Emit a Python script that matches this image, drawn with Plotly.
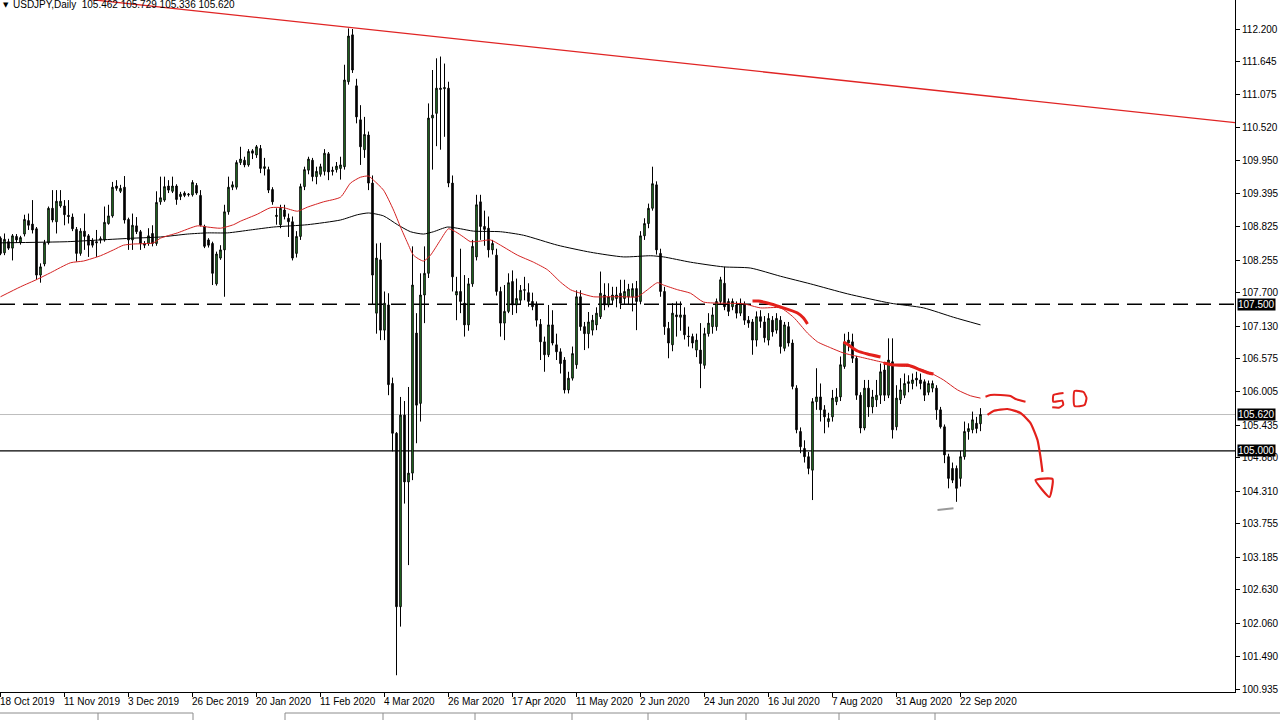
import pandas as pd
import plotly.graph_objects as go

# ---------------- data ----------------
opens = [108.63,108.38,108.57,108.46,108.66,108.56,108.70,108.93,108.87,108.79,
         108.00,108.19,108.55,109.14,108.91,109.18,109.18,109.02,108.99,108.78,
         108.37,108.75,108.67,108.59,108.57,108.60,108.60,108.88,109.01,109.52,
         109.43,109.50,108.95,108.60,108.84,108.74,108.54,108.54,108.71,108.54,
         109.25,109.28,109.52,109.43,109.52,109.34,109.40,109.37,109.37,109.53,
         109.36,108.83,108.60,108.54,107.85,108.29,108.43,109.08,109.50,109.50,
         109.92,109.96,109.88,110.12,110.05,110.16,109.82,109.80,109.46,109.00,
         108.86,109.11,108.97,108.91,108.37,108.66,109.51,109.79,109.96,109.68,
         109.72,109.77,110.07,109.79,109.80,109.82,109.85,111.30,112.10,111.23,
         110.65,110.14,110.39,109.57,107.35,108.26,107.06,107.49,106.15,105.30,
         102.34,105.61,104.47,104.62,107.01,105.81,107.66,108.03,110.68,110.76,
         111.19,111.18,111.19,109.57,107.66,107.72,107.52,107.15,107.85,108.31,
         109.25,108.83,108.80,108.43,108.34,107.72,107.18,107.38,107.89,107.49,
         107.57,107.74,107.70,107.55,107.49,107.16,106.86,106.64,107.15,106.81,
         106.69,106.55,106.04,106.24,106.47,107.63,107.12,107.00,107.06,107.15,
         107.29,107.66,107.49,107.57,107.60,107.69,107.60,107.63,107.63,107.77,
         107.55,108.67,108.88,109.14,109.54,108.37,107.72,107.09,106.81,107.32,
         107.28,107.32,106.96,106.95,106.72,106.72,106.46,107.00,107.12,107.12,
         107.55,107.86,107.55,107.46,107.49,107.35,107.49,107.23,107.20,106.89,
         107.29,107.20,106.89,107.23,107.06,107.23,106.75,107.12,106.84,106.07,
         105.33,105.04,104.90,104.67,105.84,105.92,105.70,105.50,105.58,105.84,
         105.92,106.44,106.84,106.86,106.58,105.95,105.39,106.07,105.75,105.87,
         105.95,106.38,105.95,106.52,105.41,105.87,105.95,106.15,106.15,106.24,
         106.21,106.18,106.00,106.07,106.07,105.70,105.41,104.90,104.70,104.70,
         104.53,104.90,105.33,105.36,105.47,105.462]
highs = [108.66,108.71,108.62,108.70,108.70,108.67,109.03,109.05,109.28,108.82,
         108.20,108.60,109.17,109.45,109.45,109.45,109.28,109.28,109.05,108.82,
         108.80,109.05,108.70,108.63,108.77,108.66,109.17,109.20,109.59,109.62,
         109.54,109.69,108.98,109.05,108.99,108.77,108.58,108.80,108.85,109.43,
         109.68,109.68,109.62,109.68,109.55,109.42,109.43,109.40,109.62,109.57,
         109.45,108.86,108.63,108.57,108.40,108.51,109.20,109.68,109.60,109.96,
         110.19,110.02,110.15,110.15,110.22,110.22,110.00,109.85,109.50,109.14,
         109.20,109.20,109.05,109.00,108.75,109.56,109.85,110.02,110.00,109.85,
         109.90,110.15,110.10,109.85,109.93,110.02,111.59,112.21,112.20,111.35,
         110.90,110.70,110.45,109.70,108.54,108.55,107.72,107.69,106.25,105.32,
         105.92,105.85,106.09,108.49,107.35,108.03,108.49,110.93,111.50,111.70,
         111.73,111.61,111.30,109.70,107.97,108.45,108.00,107.95,108.60,109.37,
         109.37,109.10,109.00,108.60,108.45,107.80,107.83,108.03,108.08,107.94,
         107.83,107.97,107.86,107.70,107.55,107.25,106.95,107.49,107.40,107.00,
         106.75,106.60,106.35,106.78,107.74,107.74,107.20,107.37,107.32,107.45,
         108.06,107.86,107.86,107.80,107.80,107.92,107.92,107.85,107.86,107.90,
         108.75,108.97,109.22,109.85,109.60,108.45,107.80,107.20,107.52,107.55,
         107.55,107.45,107.12,107.00,107.00,107.18,107.10,107.35,107.45,107.60,
         107.97,108.14,107.60,107.60,107.55,107.60,107.55,107.30,107.25,107.38,
         107.40,107.30,107.35,107.30,107.35,107.30,107.20,107.20,106.90,106.12,
         105.40,105.18,104.98,105.90,106.41,106.15,105.78,105.65,106.04,106.07,
         106.61,107.00,107.03,107.00,106.62,106.00,106.21,106.21,106.04,106.21,
         106.49,106.49,106.92,106.92,106.12,106.24,106.32,106.29,106.32,106.35,
         106.32,106.22,106.20,106.20,106.12,105.75,105.45,104.95,104.80,104.75,
         105.00,105.50,105.47,105.67,105.58,105.729]
lows = [108.34,108.34,108.43,108.25,108.55,108.52,108.66,108.77,108.71,107.92,
        107.87,108.15,108.52,108.90,108.71,109.15,108.85,108.88,108.75,108.23,
        108.33,108.43,108.31,108.47,108.31,108.54,108.57,108.86,108.98,109.44,
        109.40,108.88,108.43,108.43,108.70,108.43,108.46,108.50,108.49,108.50,
        109.20,109.25,109.40,109.40,109.20,109.28,109.33,109.34,109.34,109.37,
        108.83,108.46,108.47,107.83,107.82,108.26,107.63,109.03,109.45,109.46,
        109.88,109.84,109.85,109.98,110.00,109.74,109.70,109.40,109.20,108.86,
        108.80,108.95,108.65,108.25,108.30,108.60,109.45,109.72,109.60,109.55,
        109.68,109.70,109.62,109.70,109.75,109.63,109.80,111.25,111.45,110.59,
        109.88,110.00,109.45,107.49,107.00,106.89,106.89,105.95,104.99,101.17,
        102.00,104.10,103.05,104.50,105.13,105.50,107.18,107.95,109.80,110.20,
        110.14,110.36,109.50,107.72,107.23,107.35,106.95,107.05,107.80,108.25,
        108.60,108.50,108.30,108.35,107.65,106.95,106.89,107.35,107.32,107.35,
        107.50,107.57,107.46,107.40,107.12,106.55,106.35,106.60,106.80,106.55,
        106.32,105.98,105.98,106.20,106.40,107.05,106.72,106.75,106.97,107.06,
        107.25,107.40,107.45,107.50,107.45,107.42,107.50,107.50,107.38,107.06,
        107.50,108.60,108.80,109.10,108.35,107.63,106.98,106.58,106.70,106.95,
        107.05,106.90,106.78,106.75,106.60,106.07,106.40,106.95,107.00,107.05,
        107.50,107.40,107.30,107.40,107.26,107.30,107.15,107.10,106.64,106.78,
        107.10,106.85,106.80,106.95,107.00,106.66,106.70,106.78,106.05,105.30,
        104.96,104.80,104.60,104.16,105.70,105.50,105.30,105.40,105.50,105.78,
        105.85,106.40,106.70,106.50,105.87,105.30,105.35,105.58,105.64,105.75,
        105.80,105.85,105.90,105.21,105.35,105.80,105.90,106.00,106.05,106.10,
        106.05,105.85,105.95,106.00,105.53,105.38,104.79,104.36,104.45,104.13,
        104.39,104.85,105.19,105.30,105.30,105.336]
closes = [108.37,108.61,108.46,108.67,108.60,108.64,108.95,108.85,108.77,108.00,
          108.14,108.55,109.14,108.94,109.26,109.26,109.03,109.00,108.79,108.37,
          108.75,108.66,108.51,108.51,108.55,108.62,108.90,109.01,109.50,109.48,
          109.48,108.94,108.60,108.85,108.74,108.54,108.51,108.67,108.54,109.24,
          109.32,109.51,109.45,109.52,109.29,109.38,109.36,109.38,109.58,109.40,
          108.85,108.49,108.51,108.03,108.36,108.43,109.08,109.50,109.54,109.92,
          109.98,109.88,110.11,110.08,110.19,109.82,109.85,109.45,109.25,109.02,
          109.14,109.00,108.91,108.29,108.66,109.51,109.80,109.98,109.68,109.77,
          109.85,110.08,109.76,109.77,109.86,109.88,111.33,112.08,111.50,110.70,
          110.19,110.40,109.57,108.00,108.29,107.06,107.52,106.13,105.30,102.34,
          105.61,104.47,104.62,107.83,105.78,107.66,108.03,110.68,110.73,111.19,
          111.17,111.20,109.57,107.97,107.72,107.55,107.15,107.85,108.49,109.20,
          108.83,108.78,108.43,108.54,107.72,107.18,107.38,107.87,107.49,107.60,
          107.74,107.75,107.55,107.46,107.23,106.86,106.64,107.15,106.84,106.69,
          106.49,106.04,106.24,106.66,107.63,107.12,107.00,107.20,107.23,107.35,
          107.69,107.49,107.63,107.66,107.66,107.52,107.72,107.76,107.77,107.55,
          108.67,108.88,109.14,109.56,108.43,107.72,107.12,106.84,107.35,107.29,
          107.32,106.98,106.95,106.84,106.89,106.49,107.00,107.18,107.32,107.55,
          107.92,107.46,107.38,107.55,107.35,107.52,107.23,107.18,106.89,107.29,
          107.21,106.93,107.26,107.03,107.26,106.78,107.15,106.84,106.10,105.36,
          105.07,104.90,104.70,105.84,105.92,105.70,105.58,105.55,105.90,105.92,
          106.47,106.86,106.89,106.58,105.95,105.39,106.07,105.75,105.92,105.95,
          106.35,105.95,106.55,105.36,105.90,106.04,106.15,106.18,106.21,106.21,
          106.15,105.95,106.15,106.15,105.70,105.41,104.93,104.53,104.50,104.36,
          104.90,105.33,105.38,105.53,105.38,105.620]

first_date = "2019-10-18"
last_date = "2020-09-29"
closed_days = ["2019-12-25", "2020-01-01"]

tick_labels = ["18 Oct 2019", "11 Nov 2019", "3 Dec 2019", "26 Dec 2019", "20 Jan 2020",
               "11 Feb 2020", "4 Mar 2020", "26 Mar 2020", "17 Apr 2020", "11 May 2020",
               "2 Jun 2020", "24 Jun 2020", "16 Jul 2020", "7 Aug 2020", "31 Aug 2020",
               "22 Sep 2020"]

y_ticks = [112.200, 111.645, 111.075, 110.520, 109.950, 109.395, 108.825, 108.255,
           107.700, 107.130, 106.575, 106.005, 105.435, 104.880, 104.310, 103.755,
           103.185, 102.630, 102.060, 101.490, 100.935]

# moving averages (bar index, price)
ma50_x = [0, 5, 9.25, 12.5, 17.5, 20.75, 25, 28.25, 30.75, 33.25, 38.25, 40, 44.25, 49.25,
          51.75, 55, 58.25, 60, 64.25, 67.5, 70.75, 74.25, 76.75, 80.75, 85, 87.5, 90, 92,
          93.25, 95.75, 98.25, 100, 101.75, 103.25, 105.75, 107.5, 110, 112, 113.75, 115.75,
          117.5, 120, 122.5, 125, 129.25, 133.25, 136.75, 140, 142.5, 145, 148.25, 152.5,
          155.75, 159.25, 161.75, 164.25, 165.75, 169.25, 172.5, 175.75, 180.75, 185.75,
          190, 195, 198.25, 201.75, 204.25, 207.5, 210.75, 215, 220, 224.25, 228.25, 232.5,
          235.75, 239.25, 242.5, 245]
ma50_y = [107.63, 107.80, 107.93, 108.04, 108.21, 108.24, 108.33, 108.43, 108.51, 108.53,
          108.55, 108.63, 108.72, 108.84, 108.82, 108.80, 108.86, 108.92, 109.04, 109.15,
          109.15, 109.09, 109.16, 109.25, 109.33, 109.57, 109.67, 109.69, 109.62, 109.45,
          109.11, 108.82, 108.55, 108.34, 108.24, 108.34, 108.60, 108.79, 108.74, 108.65,
          108.57, 108.58, 108.60, 108.51, 108.34, 108.22, 108.09, 107.88, 107.75, 107.69,
          107.63, 107.63, 107.63, 107.63, 107.75, 107.87, 107.83, 107.75, 107.69, 107.54,
          107.52, 107.51, 107.44, 107.44, 107.28, 107.01, 106.86, 106.76, 106.67, 106.60,
          106.52, 106.45, 106.43, 106.33, 106.21, 106.04, 105.94, 105.90]
ma200_x = [0, 16.75, 25, 33.25, 40, 46.75, 51.75, 56.75, 62.5, 68.25, 76.75, 85, 89.25, 92,
           95.75, 99.25, 102.5, 105.75, 108.25, 111.75, 115, 118.25, 125, 130.75, 139.25,
           147.5, 155.75, 162.5, 165.75, 172.5, 180.75, 187.5, 195, 202.5, 211.75, 222.5,
           230.75, 238.25, 245]
ma200_y = [108.55, 108.57, 108.60, 108.63, 108.65, 108.70, 108.72, 108.72, 108.77, 108.82,
           108.86, 108.94, 109.03, 109.06, 109.01, 108.86, 108.74, 108.70, 108.74, 108.82,
           108.79, 108.75, 108.74, 108.68, 108.51, 108.39, 108.31, 108.33, 108.31, 108.22,
           108.14, 108.12, 107.98, 107.85, 107.68, 107.52, 107.44, 107.28, 107.15]

# long red trend line (two anchors)
trend_x = [0, 309]
trend_y = [112.868, 110.600]

# horizontal levels
level_dashed = 107.500
level_solid = 105.000
level_bid = 105.620
header_text = "USDJPY,Daily  105.462 105.729 105.336 105.620"

# hand drawn marks (bar index, price)
stroke1_x = [188, 189.5, 191.75, 195, 199.25, 200.75, 201.75]
stroke1_y = [107.557, 107.557, 107.523, 107.455, 107.353, 107.267, 107.165]
stroke2_x = [210.75, 212, 214.25, 216.75, 220]
stroke2_y = [106.858, 106.807, 106.704, 106.653, 106.602]
stroke3_x = [220.75, 223.25, 226.75, 228.25, 230, 232, 233.25]
stroke3_y = [106.499, 106.465, 106.465, 106.431, 106.380, 106.329, 106.312]
wave_x = [246.25, 247.5, 250, 252.5, 253.75, 256.25]
wave_y = [105.924, 105.953, 105.953, 105.936, 105.885, 105.839]
arc_x = [246.75, 248.25, 251.75, 255, 257.5, 259.25, 260, 260.5]
arc_y = [105.612, 105.680, 105.714, 105.646, 105.475, 105.185, 104.895, 104.639]
tri_x = [258.75, 263, 262.25, 258.75]
tri_y = [104.502, 104.519, 104.212, 104.502]
five_x = [265.75, 263.25, 263.18, 265.43, 265.68, 264.58, 262.93]
five_y = [105.987, 105.953, 105.839, 105.856, 105.783, 105.736, 105.743]
zero_x = [268.5, 268.5, 271, 271.5, 270.75, 268.5]
zero_y = [106.021, 105.765, 105.782, 105.902, 106.004, 106.021]
grey_x = [234.25, 238.25]
grey_y = [103.99, 104.02]

# ---------------- build ----------------
dates = pd.bdate_range(first_date, last_date)
dates = dates.drop(pd.to_datetime(closed_days))
n = len(closes)
idx = list(range(n))
date_pos = {d.strftime("%Y-%m-%d"): k for k, d in enumerate(dates)}
tick_pos = [date_pos[pd.to_datetime(t, format="%d %b %Y").strftime("%Y-%m-%d")] for t in tick_labels]

W, H = 1280, 720
ML, MR, MT, MB = 0, 45, 0, 28
PW, PH = W - ML - MR, H - MT - MB
FONT = "Liberation Sans, Arial, sans-serif"
RED = "#e3201b"

fig = go.Figure()

fig.add_trace(go.Scatter(x=trend_x, y=trend_y, mode="lines",
                         line=dict(color="#e02424", width=1.3), hoverinfo="skip"))
fig.add_trace(go.Scatter(x=ma200_x, y=ma200_y, mode="lines",
                         line=dict(color="black", width=1, shape="spline", smoothing=0.6),
                         hoverinfo="skip"))
fig.add_trace(go.Scatter(x=ma50_x, y=ma50_y, mode="lines",
                         line=dict(color="#d42222", width=1, shape="spline", smoothing=0.6),
                         hoverinfo="skip"))

fig.add_trace(go.Candlestick(
    x=idx, open=opens, high=highs, low=lows, close=closes,
    increasing=dict(line=dict(color="black", width=1), fillcolor="#2f9e2f"),
    decreasing=dict(line=dict(color="black", width=1), fillcolor="black"),
    whiskerwidth=0, hoverinfo="skip"))

for sx, sy, wdt, col in [(stroke1_x, stroke1_y, 3, RED), (stroke2_x, stroke2_y, 3, RED),
                         (stroke3_x, stroke3_y, 3, RED), (wave_x, wave_y, 2, RED),
                         (arc_x, arc_y, 2.2, RED), (tri_x, tri_y, 2.2, RED),
                         (five_x, five_y, 2, RED), (zero_x, zero_y, 2, RED),
                         (grey_x, grey_y, 2, "#9a9a9a")]:
    fig.add_trace(go.Scatter(x=sx, y=sy, mode="lines",
                             line=dict(color=col, width=wdt, shape="spline", smoothing=0.5),
                             hoverinfo="skip"))

shapes = [
    dict(type="line", xref="paper", x0=0, x1=1, yref="y", y0=level_bid, y1=level_bid,
         line=dict(color="#bdbdbd", width=1), layer="below"),
    dict(type="line", xref="paper", x0=0, x1=1, yref="y", y0=level_dashed, y1=level_dashed,
         line=dict(color="black", width=1.5, dash="15px,8px"), layer="below"),
    dict(type="line", xref="paper", x0=0, x1=1, yref="y", y0=level_solid, y1=level_solid,
         line=dict(color="black", width=1.2), layer="below"),
]

def py(ypx):
    return (H - MB - ypx) / PH

def px(xpx):
    return (xpx - ML) / PW

# bottom tab strip
shapes.append(dict(type="line", xref="paper", yref="paper", x0=px(0), x1=px(193),
                   y0=py(713), y1=py(713), line=dict(color="#8c8c8c", width=1)))
shapes.append(dict(type="line", xref="paper", yref="paper", x0=px(285), x1=px(1280),
                   y0=py(713), y1=py(713), line=dict(color="#8c8c8c", width=1)))
for sxp in [98, 193, 285, 383, 475, 572, 648, 746, 839, 935]:
    shapes.append(dict(type="line", xref="paper", yref="paper", x0=px(sxp), x1=px(sxp),
                       y0=py(713), y1=py(720), line=dict(color="#8c8c8c", width=1)))

annotations = []
for t, p in zip(tick_labels, tick_pos):
    annotations.append(dict(x=p, xref="x", y=0, yref="paper", text=t, showarrow=False,
                            xanchor="left", yanchor="top", xshift=-3, yshift=-2,
                            font=dict(family=FONT, size=10, color="black")))
for lv in [level_dashed, level_bid, level_solid]:
    annotations.append(dict(x=1, xref="paper", y=lv, yref="y", text=f"{lv:.3f}",
                            showarrow=False, xanchor="left", yanchor="middle", xshift=2,
                            bgcolor="black", borderpad=0,
                            font=dict(family=FONT, size=10, color="white")))
annotations.append(dict(x=0, xref="paper", y=1, yref="paper", text="▼", showarrow=False,
                        xanchor="left", yanchor="top", xshift=1, yshift=1,
                        font=dict(family="DejaVu Sans", size=7, color="black")))
annotations.append(dict(x=0, xref="paper", y=1, yref="paper", text=header_text,
                        showarrow=False, xanchor="left", yanchor="top", xshift=11, yshift=3,
                        font=dict(family=FONT, size=10, color="black")))

fig.update_layout(
    width=W, height=H,
    margin=dict(l=ML, r=MR, t=MT, b=MB, pad=0, autoexpand=False),
    paper_bgcolor="white", plot_bgcolor="white",
    showlegend=False, boxgap=0.45,
    shapes=shapes, annotations=annotations,
    xaxis=dict(range=[-0.125, 308.625], showgrid=False, zeroline=False, automargin=False,
               showline=True, linecolor="black", linewidth=1,
               ticks="outside", tickvals=tick_pos, ticklen=4, tickcolor="black",
               showticklabels=False, rangeslider=dict(visible=False), fixedrange=True),
    yaxis=dict(side="right", range=[100.884, 112.695], showgrid=False, zeroline=False,
               automargin=False,
               showline=True, linecolor="black", linewidth=1,
               ticks="outside", ticklen=4, tickcolor="black",
               tickvals=y_ticks, ticktext=[f"{v:.3f}" for v in y_ticks],
               tickfont=dict(family=FONT, size=10, color="black"), fixedrange=True),
)

fig.write_html("out.html", config={"displayModeBar": False},
               post_script="document.body.style.margin='0px';document.body.style.overflow='hidden';")
